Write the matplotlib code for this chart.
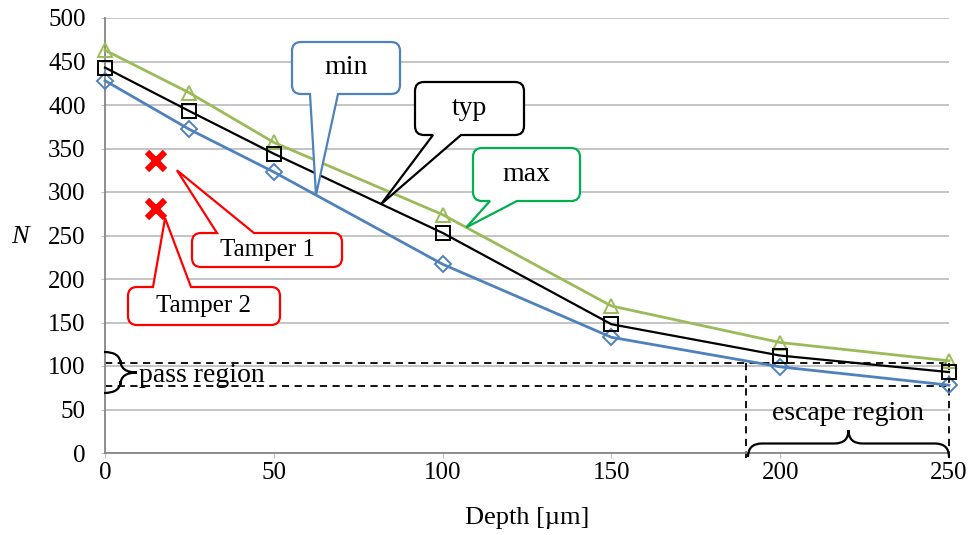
import numpy as np
import matplotlib
matplotlib.use("Agg")
import matplotlib.pyplot as plt
from matplotlib.path import Path
from matplotlib.patches import PathPatch

plt.rcParams['font.family'] = ['Liberation Serif', 'DejaVu Serif']

# data
depth = [0, 25, 50, 100, 150, 200, 250]
n_min = [428, 372, 323, 217, 133, 99, 78]
n_typ = [443, 393, 344, 253, 148, 112, 93]
n_max = [463, 414, 357, 274, 169, 127, 106]
tamper_x = [15, 15]
tamper_y = [336, 281]
tamper_names = ['Tamper 1', 'Tamper 2']
pass_lo, pass_hi = 77, 104
escape_lo, escape_hi = 190, 250

W, H = 974, 535
fig = plt.figure(figsize=(W / 100, H / 100), dpi=100)
ax = fig.add_axes([105 / W, (H - 453) / H, 844 / W, 435 / H])

blue = '#4F81BD'
green = '#9BBB59'
ax.plot(depth, n_max, color=green, lw=2, marker='^', ms=10, mfc='none', mew=1.4, zorder=3, clip_on=False)
ax.plot(depth, n_typ, color='black', lw=1.6, marker='s', ms=9.5, mfc='none', mew=1.4, zorder=4, clip_on=False)
ax.plot(depth, n_min, color=blue, lw=2, marker='D', ms=8, mfc='none', mew=1.4, zorder=3, clip_on=False)
ax.plot(tamper_x, tamper_y, ls='none', marker='x', color='red', ms=13, mew=4.5, zorder=5)

ax.set_xlim(0, 250)
ax.set_ylim(0, 500)
ax.set_xticks([0, 50, 100, 150, 200, 250])
ax.set_yticks(np.arange(0, 501, 50))
ax.yaxis.grid(True, color='#BFBFBF', lw=1.3)
ax.set_axisbelow(True)
for s in ['top', 'right']:
    ax.spines[s].set_visible(False)
for s in ['left', 'bottom']:
    ax.spines[s].set_color('#868686')
    ax.spines[s].set_linewidth(1.3)
ax.tick_params(axis='y', length=3, color='#BFBFBF', labelsize=18, pad=11)
ax.tick_params(axis='x', length=3.6, color='#BFBFBF', labelsize=18, pad=2.6)
ax.set_xlabel('Depth [µm]', fontsize=19, va='center')
ax.xaxis.set_label_coords(0.5, (453 - 518) / 435)
ax.set_ylabel('N', fontsize=19, style='italic', rotation=0, va='center', ha='center')
ax.yaxis.set_label_coords((20 - 105) / 844, (453 - 237) / 435)

# pass / escape regions
ax.plot([0, 250], [pass_hi, pass_hi], color='black', ls=(0, (4, 3)), lw=1.3, zorder=2)
ax.plot([0, 250], [pass_lo, pass_lo], color='black', ls=(0, (4, 3)), lw=1.3, zorder=2)
for xv in [escape_lo, escape_hi]:
    ax.plot([xv, xv], [pass_hi, -6], color='black', ls=(0, (4, 3)), lw=1.3, zorder=2, clip_on=False)


def px(x, y):
    # image pixel (top-left origin) -> display
    return (x, H - y)


def brace(p0, p1, h, r):
    # curly brace from p0 to p1 (display coords), tip offset h to the left of p0->p1
    p0 = np.array(p0, float); p1 = np.array(p1, float)
    d = p1 - p0
    L = np.hypot(*d)
    u = d / L
    v = np.array([-u[1], u[0]])
    m = lambda a, b: p0 + a * u + b * v
    verts = [m(0, 0), m(0, h / 2), m(r, h / 2), m(L / 2 - r, h / 2), m(L / 2, h / 2), m(L / 2, h),
             m(L / 2, h / 2), m(L / 2 + r, h / 2), m(L - r, h / 2), m(L, h / 2), m(L, 0)]
    codes = [Path.MOVETO, Path.CURVE3, Path.CURVE3, Path.LINETO, Path.CURVE3, Path.CURVE3,
             Path.CURVE3, Path.CURVE3, Path.LINETO, Path.CURVE3, Path.CURVE3]
    fig.add_artist(PathPatch(Path(verts, codes), transform=None, fc='none', ec='black', lw=1.6))


brace(px(104, 352), px(104, 393), 33, 12)
fig.text(139 / W, 1 - 375 / H, 'pass region', fontsize=20, va='center', ha='left')
brace(px(748, 457), px(949, 457), 27, 14)
fig.text(848 / W, 1 - 414 / H, 'escape region', fontsize=20, va='center', ha='center')


def callout(text, box, side, base, tip, color, size):
    x0, y0, x1, y1 = box
    r = 9
    tx, ty = ax.transData.transform(tip)
    ty = H - ty
    pts = [(x0 + r, y0)]
    codes = [Path.MOVETO]
    if side == 'top':
        pts += [(base[0], y0), (tx, ty), (base[1], y0)]
        codes += [Path.LINETO] * 3
    pts += [(x1 - r, y0), (x1, y0), (x1, y0 + r), (x1, y1 - r), (x1, y1), (x1 - r, y1)]
    codes += [Path.LINETO, Path.CURVE3, Path.CURVE3, Path.LINETO, Path.CURVE3, Path.CURVE3]
    if side == 'bottom':
        pts += [(base[1], y1), (tx, ty), (base[0], y1)]
        codes += [Path.LINETO] * 3
    pts += [(x0 + r, y1), (x0, y1), (x0, y1 - r), (x0, y0 + r), (x0, y0), (x0 + r, y0), (x0 + r, y0)]
    codes += [Path.LINETO, Path.CURVE3, Path.CURVE3, Path.LINETO, Path.CURVE3, Path.CURVE3, Path.CLOSEPOLY]
    pts = [px(a, b) for a, b in pts]
    fig.add_artist(PathPatch(Path(pts, codes), transform=None, fc='white', ec=color, lw=1.6, zorder=6))
    fig.text((x0 + x1) / 2 / W, 1 - (y0 + y1) / 2 / H, text, fontsize=size,
             ha='center', va='center', zorder=7)


tip_min = 62.5
tip_typ = 81.8
tip_max = 107
callout('min', (292, 42, 400, 94), 'bottom', (310, 338), (tip_min, np.interp(tip_min, depth, n_min)), blue, 20)
callout('typ', (415, 82, 524, 135), 'bottom', (433, 461), (tip_typ, np.interp(tip_typ, depth, n_typ)), 'black', 20)
callout('max', (473, 148, 580, 201), 'bottom', (490, 517), (tip_max, np.interp(tip_max, depth, n_max)), '#00B050', 20)
callout(tamper_names[0], (192, 233, 342, 267), 'top', (217, 254), (tamper_x[0] + 6.3, tamper_y[0] - 11), 'red', 18)
callout(tamper_names[1], (128, 287, 280, 325), 'top', (153, 191), (tamper_x[1] + 2.8, tamper_y[1] - 11), 'red', 18)

fig.savefig('out.png', dpi=100)
